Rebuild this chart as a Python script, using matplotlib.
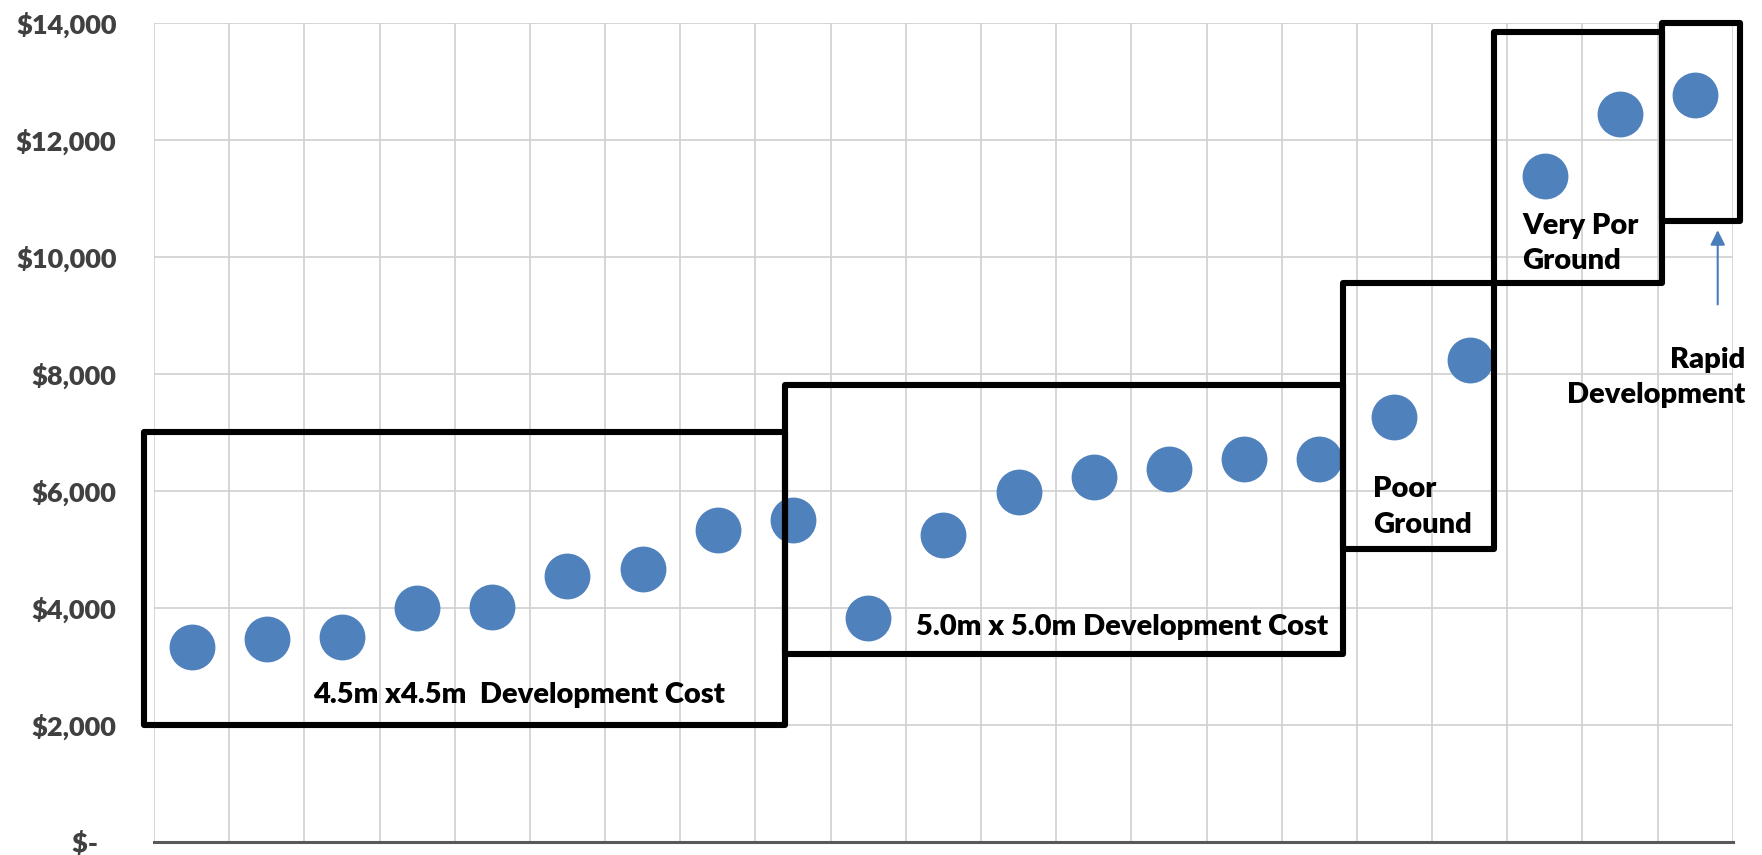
import numpy as np
import matplotlib.pyplot as plt
from matplotlib.patches import Rectangle
from matplotlib.ticker import FuncFormatter

# development cost per metre, one value per option
costs = [3325, 3470, 3500, 3995, 4010, 4550, 4665, 5325, 5495,
         3830, 5250, 5975, 6235, 6365, 6545, 6550,
         7255, 8245,
         11390, 12450,
         12765]

# annotation groups: (x0, x1, y0, y1) in data units, label
groups = [
    ((-0.63, 7.90, 2000, 7000), "4.5m x4.5m  Development Cost"),
    ((7.90, 15.32, 3205, 7810), "5.0m x 5.0m Development Cost"),
    ((15.32, 17.33, 5010, 9555), "Poor\nGround"),
    ((17.33, 19.56, 9555, 13845), "Very Por\nGround"),
    ((19.56, 20.60, 10610, 14005), "Rapid\nDevelopment"),
]

yticks = np.arange(0, 14001, 2000)

plt.rcParams['font.family'] = ['Lato', 'DejaVu Sans']

fig = plt.figure(figsize=(17.62, 8.55), dpi=100)
ax = fig.add_axes([0.0874, 0.0156, 0.896, 0.9575])

x = np.arange(len(costs))
ax.plot(x, costs, 'o', ms=32, color='#4f81bd', zorder=3)

ax.set_xlim(-0.5, len(costs) - 0.5)
ax.set_ylim(0, 14000)
ax.set_yticks(yticks)
ax.yaxis.set_major_formatter(FuncFormatter(
    lambda v, _: "$-   " if v == 0 else f"${v:,.0f}"))
ax.set_xticks(np.arange(-0.5, len(costs), 1.0))
ax.set_xticklabels([])
ax.tick_params(length=0, pad=27)
for lab in ax.get_yticklabels():
    lab.set_fontsize(19.5)
    lab.set_fontweight('heavy')
    lab.set_color('#404040')

ax.grid(True, color='#d0d0d0', lw=1.2)
ax.set_axisbelow(True)
for s in ['left', 'right', 'top']:
    ax.spines[s].set_visible(False)
ax.spines['bottom'].set_color('#595959')
ax.spines['bottom'].set_linewidth(2.2)

for (x0, x1, y0, y1), _ in groups:
    ax.add_patch(Rectangle((x0, y0), x1 - x0, y1 - y0, fill=False,
                           ec='black', lw=4.4, joinstyle='round',
                           clip_on=False, zorder=4))

tkw = dict(fontsize=21, fontweight='heavy', color='black', zorder=5,
           linespacing=1.45)
ax.text(1.61, 2505, groups[0][1], ha='left', va='center', **tkw)
ax.text(9.64, 3675, groups[1][1], ha='left', va='center', **tkw)
ax.text(15.72, 5720, groups[2][1], ha='left', va='center', **tkw)
ax.text(17.70, 10230, groups[3][1], ha='left', va='center', **tkw)
ax.text(20.66, 7935, groups[4][1], ha='right', va='center', clip_on=False,
        **tkw)

ax.annotate('', xy=(20.30, 10505), xytext=(20.30, 9140),
            arrowprops=dict(arrowstyle='-|>', color='#4a7ebb', lw=1.5,
                            mutation_scale=22))

fig.savefig('out.png', dpi=100)
